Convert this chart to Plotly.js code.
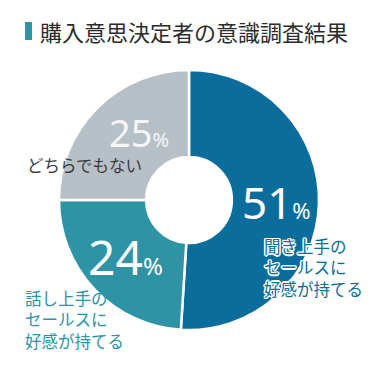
<!DOCTYPE html>
<html><head><meta charset="utf-8">
<script src="https://cdn.plot.ly/plotly-3.0.1.min.js"></script>
<style>html,body{margin:0;padding:0;background:#fff}</style>
</head><body><div id="chart" style="width:383px;height:372px"></div>
<script>
const chartTitle = '購入意思決定者の意識調査結果';
const categories = ['聞き上手の<br>セールスに<br>好感が持てる', '話し上手の<br>セールスに<br>好感が持てる', 'どちらでもない'];
const values = [51, 24, 25];
const sliceColors = ['#0b6d9b', '#2f93a6', '#b7c0c7'];

const W = 383, H = 372;
const px = x => x / W;
const py = y => 1 - y / H;
const cx = 189, cy = 200, R = 130;

const numFont = '"Noto Sans", "Open Sans", sans-serif';
const jpFont = '"Noto Sans CJK JP", "Noto Sans", sans-serif';

// style / placement per slice (not data)
const pctStyle = [
  {x: 276, y: 202, big: 44, small: 22, color: '#ffffff'},
  {x: 126, y: 256, big: 48, small: 24, color: '#ffffff'},
  {x: 139, y: 132, big: 38, small: 20, color: '#f4f6f7'}
];
const labStyle = [
  {x: 262, y: 267, color: '#0b6d9b', anchor: 'left', shadow: '1.5px 0 0 #fff, -1.5px 0 0 #fff, 0 1.5px 0 #fff, 0 -1.5px 0 #fff, 1px 1px 0 #fff, -1px -1px 0 #fff, 1px -1px 0 #fff, -1px 1px 0 #fff'},
  {x: 23, y: 319, color: '#2f93a6', anchor: 'left', shadow: 'none'},
  {x: 25, y: 165, color: '#3a3a3a', anchor: 'left', shadow: 'none'}
];

const annotations = [];
values.forEach((v, i) => {
  const s = pctStyle[i];
  annotations.push({
    xref: 'paper', yref: 'paper', x: px(s.x), y: py(s.y),
    xanchor: 'center', yanchor: 'middle', showarrow: false,
    text: v + '<span style="font-size:' + s.small + 'px">%</span>',
    font: {family: numFont, size: s.big, color: s.color}
  });
  const l = labStyle[i];
  annotations.push({
    xref: 'paper', yref: 'paper', x: px(l.x), y: py(l.y),
    xanchor: l.anchor, yanchor: 'middle', align: 'left', showarrow: false,
    text: categories[i],
    font: {family: jpFont, size: 16.5, color: l.color, shadow: l.shadow}
  });
});
annotations.push({
  xref: 'paper', yref: 'paper', x: px(38), y: py(31),
  xanchor: 'left', yanchor: 'middle', showarrow: false,
  text: chartTitle,
  font: {family: jpFont, size: 22, color: '#2b2b2b'}
});

const data = [{
  type: 'pie',
  values: values,
  labels: categories,
  marker: {colors: sliceColors, line: {color: '#ffffff', width: 2.5}},
  sort: false,
  direction: 'clockwise',
  rotation: 0,
  hole: 0.33,
  textinfo: 'none',
  hoverinfo: 'none',
  domain: {x: [px(cx - R), px(cx + R)], y: [py(cy + R), py(cy - R)]}
}];

const layout = {
  width: W, height: H,
  margin: {l: 0, r: 0, t: 0, b: 0},
  paper_bgcolor: '#ffffff',
  showlegend: false,
  annotations: annotations,
  shapes: [{
    type: 'rect', xref: 'paper', yref: 'paper',
    x0: px(25), x1: px(32), y0: py(40), y1: py(22),
    fillcolor: '#2f93a6', line: {width: 0}
  }]
};

Plotly.newPlot('chart', data, layout, {staticPlot: true, displayModeBar: false});
</script>
</body></html>
